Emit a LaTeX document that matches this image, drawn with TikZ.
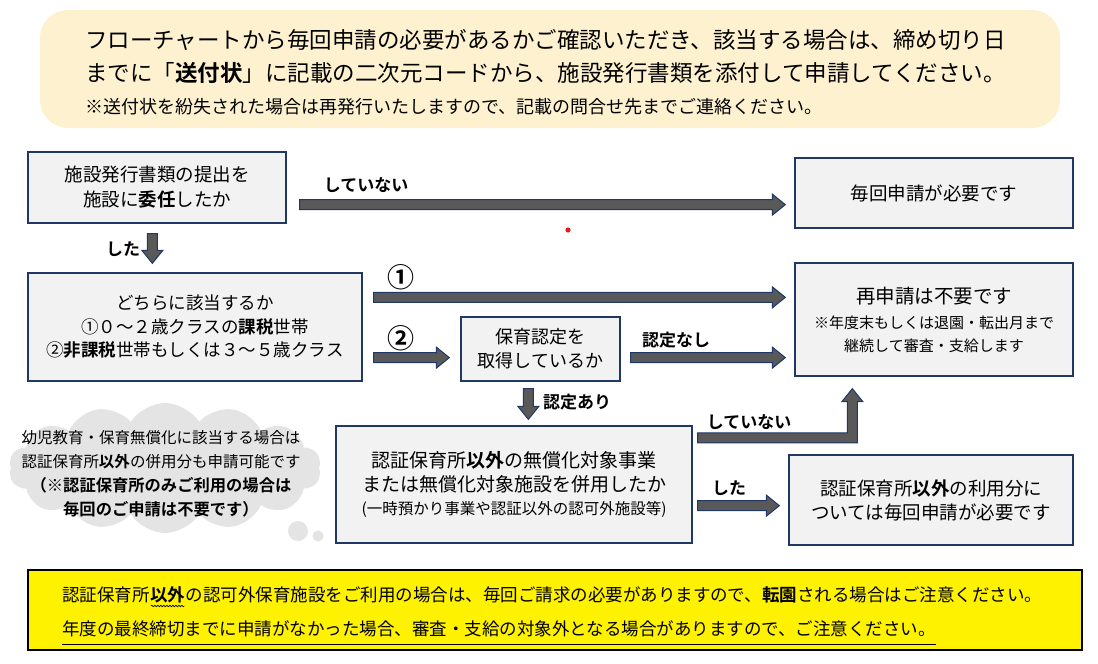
\documentclass[tikz,border=0pt]{standalone}
\usepackage{fontspec}
\setmainfont{Noto Sans CJK JP}[BoldFont={Noto Sans CJK JP Bold}]
\usetikzlibrary{shapes.symbols,calc,decorations.pathmorphing}
\definecolor{navy}{HTML}{203864}
\definecolor{boxfill}{HTML}{F2F2F2}
\definecolor{agray}{HTML}{595959}
\definecolor{cream}{HTML}{FDF1CF}
\definecolor{clgray}{HTML}{E4E4E4}
\definecolor{dotred}{HTML}{E8191C}
\newcommand{\myfs}[2]{\fontsize{#1}{#2}\selectfont}
% horizontal block arrow from #1 to tip #2 (same y as #1)
\newcommand{\hblock}[2]{\draw[blk] let \p1=(#1), \p2=(#2) in
  (\x1,\y1+5pt) -- (\x2-13pt,\y1+5pt) -- (\x2-13pt,\y1+10.5pt) -- (\x2,\y1)
  -- (\x2-13pt,\y1-10.5pt) -- (\x2-13pt,\y1-5pt) -- (\x1,\y1-5pt) -- cycle;}
% downward block arrow from #1 to tip #2 (same x as #1)
\newcommand{\vblock}[2]{\draw[blk] let \p1=(#1), \p2=(#2) in
  (\x1-5pt,\y1) -- (\x1-5pt,\y2+13pt) -- (\x1-10.5pt,\y2+13pt) -- (\x1,\y2)
  -- (\x1+10.5pt,\y2+13pt) -- (\x1+5pt,\y2+13pt) -- (\x1+5pt,\y1) -- cycle;}
\begin{document}
\begin{tikzpicture}[x=1pt,y=-1pt,
  box/.style={draw=navy, line width=1.3pt, fill=boxfill, align=center, inner sep=0pt},
  blk/.style={draw=navy, fill=agray, line width=1pt, line join=miter},
  lbl/.style={font=\myfs{17}{19}\bfseries, inner sep=0pt},
  num/.style={font=\myfs{27}{29}\bfseries, inner sep=0pt},
  txt/.style={inner sep=0pt, anchor=west},
]
\useasboundingbox (0,0) rectangle (1098,664);

% ---- top banner ----
\node[fill=cream, rounded corners=28pt, minimum width=1020pt, minimum height=118pt, inner sep=0pt] (banner) at (550,69) {};
\node[txt, font=\myfs{22.5}{26}] (t1) at (85,40) {フローチャートから毎回申請の必要があるかご確認いただき、該当する場合は、締め切り日};
\node[txt, font=\myfs{22.5}{26}] (t2) at (85,73) {までに「\textbf{送付状}」に記載の二次元コードから、施設発行書類を添付して申請してください。};
\node[txt, font=\myfs{18}{22}] (t3) at (85,107) {※送付状を紛失された場合は再発行いたしますので、記載の問合せ先までご連絡ください。};

% ---- boxes ----
\node[box, minimum width=258pt, minimum height=71pt, font=\myfs{18.5}{25}] (A) at (157,187.5) {施設発行書類の提出を\\施設に\textbf{委任}したか};
\node[box, minimum width=278pt, minimum height=70pt, font=\myfs{18.5}{24}] (B) at (934,193) {毎回申請が必要です};
\node[box, minimum width=334pt, minimum height=108pt, font=\myfs{17.5}{23.5}] (C) at (195,327) {どちらに該当するか\\①０～２歳クラスの\textbf{課税}世帯\\②\textbf{非課税}世帯もしくは３～５歳クラス};
\node[box, minimum width=159pt, minimum height=64pt, font=\myfs{18}{24}] (D) at (540.5,349) {保育認定を\\取得しているか};
\node[box, minimum width=278pt, minimum height=113pt, font=\myfs{15}{22.5}] (E) at (934,319.5) {{\fontsize{19.5}{22.5}\selectfont 再申請は不要です}\\[3pt]※年度末もしくは退園・転出月まで\\継続して審査・支給します};
\node[box, minimum width=356pt, minimum height=117pt, font=\myfs{15.5}{23.5}] (F) at (514,484.5) {{\fontsize{19}{23.5}\selectfont 認証保育所\textbf{以外}の無償化対象事業}\\{\fontsize{19}{23.5}\selectfont または無償化対象施設を併用したか}\\(一時預かり事業や認証以外の認可外施設等)};
\node[box, minimum width=284pt, minimum height=90pt, font=\myfs{18.5}{24}] (G) at (931,500) {認証保育所\textbf{以外}の利用分に\\ついては毎回申請が必要です};

% ---- cloud ----
\node[cloud, cloud puffs=14, cloud puff arc=115, aspect=2.5, fill=clgray, minimum width=312pt, minimum height=130pt, inner sep=0pt] (cloud) at (165,468) {};
\fill[clgray] (298,531) circle (10);
\fill[clgray] (318,536) circle (5.5);
\node[align=center, inner sep=0pt, font=\myfs{15.5}{24}] (cloudtxt) at (161,474) {幼児教育・保育無償化に該当する場合は\\認証保育所\textbf{以外}の併用分も申請可能です\\{\fontsize{16.3}{24}\selectfont\bfseries （※認証保育所のみご利用の場合は}\\{\fontsize{16.3}{24}\selectfont\bfseries 毎回のご申請は不要です）}};

% ---- connectors ----
\coordinate (a1s) at ($(A.south east)+(13,-19)$);
\coordinate (a1e) at ($(B.west |- a1s)+(-9,0)$);
\hblock{a1s}{a1e}
\node[lbl] (l1) at (366,185) {していない};

\coordinate (a2s) at ($(A.south west)+(125,10)$);
\coordinate (a2e) at ($(C.north west)+(125,-9)$);
\vblock{a2s}{a2e}
\node[lbl] (l2) at (123,249) {した};

\coordinate (a3s) at ($(C.north east)+(11,25)$);
\coordinate (a3e) at ($(E.west |- a3s)+(-9,0)$);
\hblock{a3s}{a3e}
\node[num] (l3) at (401,277) {①};

\coordinate (a4s) at ($(C.south east)+(11,-24)$);
\coordinate (a4e) at ($(D.west |- a4s)+(-11,0)$);
\hblock{a4s}{a4e}
\node[num] (l4) at (401,338) {②};

\coordinate (a5s) at ($(D.south east)+(10,-24)$);
\coordinate (a5e) at ($(E.west |- a5s)+(-9,0)$);
\hblock{a5s}{a5e}
\node[lbl] (l5) at (676,340) {認定なし};

\coordinate (a6s) at ($(D.south west)+(68,7)$);
\coordinate (a6e) at ($(F.north west)+(193,-6)$);
\vblock{a6s}{a6e}
\node[lbl] (l6) at (577,402) {認定あり};

\coordinate (a7s) at ($(F.north east)+(5,12.5)$);
\coordinate (a7e) at ($(E.south west)+(58,12)$);
\draw[blk] let \p1=(a7s), \p2=(a7e) in
  (\x1,\y1+5pt) -- (\x2-5pt,\y1+5pt) -- (\x2-5pt,\y2-13pt) -- (\x2-10.5pt,\y2-13pt) -- (\x2,\y2)
  -- (\x2+10.5pt,\y2-13pt) -- (\x2+5pt,\y2-13pt) -- (\x2+5pt,\y1-5pt) -- (\x1,\y1-5pt) -- cycle;
\node[lbl] (l7) at (749,422) {していない};

\coordinate (a8s) at ($(F.south east)+(5,-38)$);
\coordinate (a8e) at ($(G.west |- a8s)+(-9,0)$);
\hblock{a8s}{a8e}
\node[lbl] (l8) at (729,488) {した};

\fill[dotred] (568,230) circle (2.6);

% ---- bottom note ----
\node[draw=black, line width=1.3pt, fill=yellow, minimum width=1054pt, minimum height=80pt, inner sep=0pt] (note) at (555,610) {};
\node[inner sep=0pt, anchor=base west, font=\myfs{17.5}{20}] (n1a) at (62,601) {認証保育所};
\node[inner sep=0pt, anchor=base west, font=\myfs{17.5}{20}\bfseries] (n1b) at (n1a.base east) {以外};
\node[inner sep=0pt, anchor=base west, font=\myfs{17.5}{20}] (n1c) at (n1b.base east) {の認可外保育施設をご利用の場合は、毎回ご請求の必要がありますので、\textbf{転園}される場合はご注意ください。};
\draw[decorate, decoration={snake, amplitude=0.8pt, segment length=3pt}, line width=0.6pt] ($(n1b.base west)+(1,5)$) -- ($(n1b.base east)+(-1,5)$);
\node[inner sep=0pt, anchor=base west, font=\myfs{17.5}{20}] (n2) at (62,635) {年度の最終締切までに申請がなかった場合、審査・支給の対象外となる場合がありますので、ご注意ください。};
\draw[line width=1pt] ($(n2.base west)+(0,9)$) -- ($(n2.base east)+(0,9)$);
\end{tikzpicture}
\end{document}
